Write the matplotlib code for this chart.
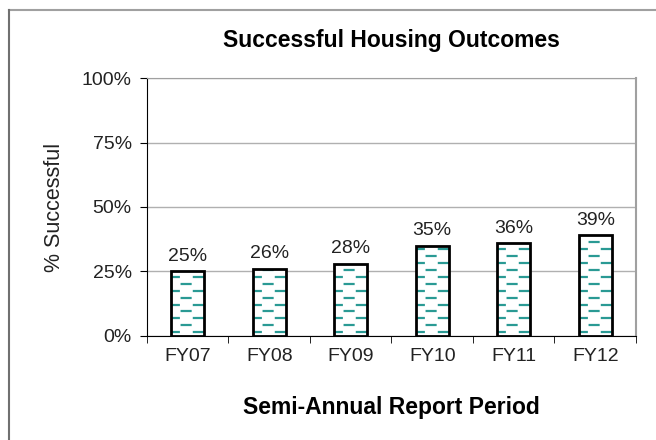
import numpy as np
from matplotlib import pyplot as plt
from matplotlib.lines import Line2D

periods = ["FY07", "FY08", "FY09", "FY10", "FY11", "FY12"]
pct_successful = [25, 26, 28, 35, 36, 39]

plt.rcParams['font.family'] = ['Liberation Sans', 'DejaVu Sans']

fig = plt.figure(figsize=(6.56, 4.40), dpi=100)
ax = fig.add_axes([0.224, 0.2364, 0.7455, 0.5863])

# outer frame (top and left only visible)
fig.add_artist(Line2D([9/656, 1], [1 - 10/440, 1 - 10/440], color="#a0a0a0", lw=1.5))
fig.add_artist(Line2D([9/656, 9/656], [0, 1 - 10/440], color="#707070", lw=1.5))

x = np.arange(len(periods))
bars = ax.bar(x, pct_successful, width=0.4, color="white", edgecolor="none", zorder=3)

# staggered teal dashes inside each bar
teal = "#2a9a94"
for b in bars:
    x0, w, h = b.get_x(), b.get_width(), b.get_height()
    rows = np.arange(1.4, h, 2.7)
    for i, yy in enumerate(rows):
        off = 1.0 if i % 2 == 0 else 6.5
        ln, = ax.plot([x0, x0 + w], [yy, yy], color=teal, lw=1.6,
                      linestyle=(off, (5.0, 5.8)), zorder=3.5,
                      dash_capstyle="butt")
        ln.set_clip_path(b)

# outlines on top
ax.bar(x, pct_successful, width=0.4, fill=False, edgecolor="black",
       linewidth=2, zorder=4)

for xi, v in zip(x, pct_successful):
    ax.text(xi, v + 2.5, f"{v}%", ha="center", va="bottom", fontsize=14, color="#222222")

ax.set_xlim(-0.5, len(periods) - 0.5)
ax.set_ylim(0, 100)
ax.set_yticks([0, 25, 50, 75, 100])
ax.set_yticklabels(["0%", "25%", "50%", "75%", "100%"], fontsize=14, color="#222222")
ax.set_xticks(x)
ax.set_xticklabels(periods, fontsize=14, color="#222222")
ax.set_xticks(np.arange(-0.5, len(periods), 1), minor=True)
ax.tick_params(axis="x", which="major", length=0, pad=9)
ax.tick_params(axis="x", which="minor", length=5, direction="out", color="black")
ax.tick_params(axis="y", length=5, direction="out", color="black", pad=6)

ax.yaxis.grid(True, color="#b0b0b0", lw=1)
ax.set_axisbelow(True)
ax.spines["left"].set_color("black")
ax.spines["bottom"].set_color("black")
ax.spines["top"].set_color("#a0a0a0")
ax.spines["right"].set_color("#a0a0a0")
ax.spines["right"].set_linewidth(1.5)

ax.set_ylabel("% Successful", fontsize=15.5, color="#222222", labelpad=12)
ax.set_xlabel("Semi-Annual Report Period", fontsize=16.5, fontweight="bold", labelpad=22)
ax.set_title("Successful Housing Outcomes", fontsize=16.5, fontweight="bold", pad=22)

plt.savefig("out.png", dpi=100)
